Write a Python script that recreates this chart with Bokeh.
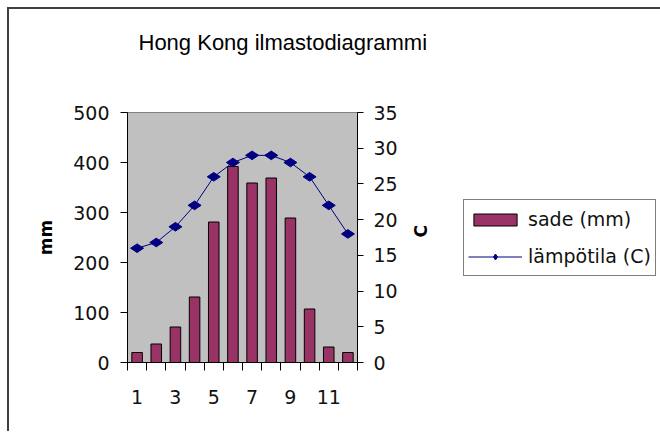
import math
from bokeh.plotting import figure
from bokeh.models import (Range1d, LinearAxis, FixedTicker, Legend, LegendItem,
                          ColumnDataSource)
from bokeh.embed import file_html
from bokeh.resources import INLINE

months = [1, 2, 3, 4, 5, 6, 7, 8, 9, 10, 11, 12]
rain_mm = [20, 37, 71, 131, 281, 392, 359, 369, 289, 107, 31, 20]
temp_c = [16, 16.8, 19, 22, 26, 28, 29, 29, 28, 26, 22, 18]
x_tick_labels = [1, 3, 5, 7, 9, 11]
title_text = "Hong Kong ilmastodiagrammi"
rain_label = "sade (mm)"
temp_label = "lämpötila (C)"

src = ColumnDataSource(data=dict(m=months, rain=rain_mm, temp=temp_c))

TICK_FONT = "DejaVu Sans"
p = figure(frame_width=230, frame_height=250, output_backend="svg", toolbar_location=None,
           x_range=Range1d(0.5, 12.5), y_range=Range1d(0, 500),
           min_border_left=118, min_border_right=0, min_border_top=0,
           min_border_bottom=69)
p.styles = {"margin-left": "7px", "margin-top": "7px",
            "border-left": "2px solid #404040", "border-top": "2px solid #404040"}
p.background_fill_color = "#c0c0c0"
p.border_fill_color = "white"
p.outline_line_color = "#808080"
p.grid.visible = False
p.extra_y_ranges = {"temp": Range1d(0, 35)}

# title (second blank line reserves the space above the plot area)
p.title.text = title_text + "\n "
p.title.align = "left"
p.title.offset = 11
p.title.standoff = 37
p.title.text_line_height = 1.57
p.title.text_font = "Liberation Sans"
p.title.text_font_size = "22px"
p.title.text_font_style = "normal"
p.title.text_color = "black"

bars = p.vbar(x="m", top="rain", width=0.55, source=src, fill_color="#993366",
              line_color="black", line_width=1)
line = p.line(x="m", y="temp", source=src, y_range_name="temp",
              line_color="#000080", line_width=1)
pts = p.scatter(x="m", y="temp", source=src, y_range_name="temp", marker="diamond",
                size=13, angle=math.pi / 2, fill_color="#000080", line_color="#000080")

# x axis
xa = p.xaxis[0]
xa.ticker = FixedTicker(ticks=x_tick_labels, minor_ticks=[m - 0.5 for m in months] + [12.5])
xa.major_tick_line_color = None
xa.major_tick_out = 8
xa.major_tick_in = 0
xa.minor_tick_out = 8
xa.minor_tick_in = 0
xa.minor_tick_line_color = "black"

# left axis
ya = p.yaxis[0]
ya.ticker = FixedTicker(ticks=[0, 100, 200, 300, 400, 500])
ya.axis_label = "mm"
ya.axis_label_standoff = 14
ya.minor_tick_line_color = None
ya.major_tick_out = 7
ya.major_tick_in = 0
ya.major_label_standoff = 11

# right axis
ra = LinearAxis(y_range_name="temp", ticker=FixedTicker(ticks=[0, 5, 10, 15, 20, 25, 30, 35]))
ra.axis_label = "C"
ra.axis_label_standoff = 20
if "axis_label_orientation" in ra.properties():
    ra.axis_label_orientation = math.pi / 2
ra.minor_tick_line_color = None
ra.major_tick_out = 6
ra.major_tick_in = 0
ra.major_label_standoff = 10
p.add_layout(ra, "right")

for ax in [xa, ya, ra]:
    ax.axis_line_color = "black"
    ax.major_label_text_font = TICK_FONT
    ax.major_label_text_font_size = "19px"
    ax.major_label_text_color = "#111111"
    ax.axis_label_text_font = "DejaVu Sans"
    ax.axis_label_text_font_style = "bold"
    ax.axis_label_text_font_size = "17px"
    ax.axis_label_text_color = "black"
xa.major_label_standoff = 19

legend = Legend(items=[LegendItem(label=rain_label, renderers=[bars]),
                       LegendItem(label=temp_label, renderers=[line, pts])],
                location=(-220, 86))
legend.border_line_color = "black"
legend.border_line_width = 1
legend.background_fill_color = "white"
legend.background_fill_alpha = 1
legend.padding = 4
legend.spacing = 7
legend.margin = 16
legend.glyph_width = 54
legend.glyph_height = 15
legend.label_height = 30
legend.label_standoff = 6
legend.label_text_font = TICK_FONT
legend.label_text_font_size = "19px"
legend.label_text_color = "#111111"
p.add_layout(legend, "right")

open("out.html", "w").write(file_html(p, INLINE))
